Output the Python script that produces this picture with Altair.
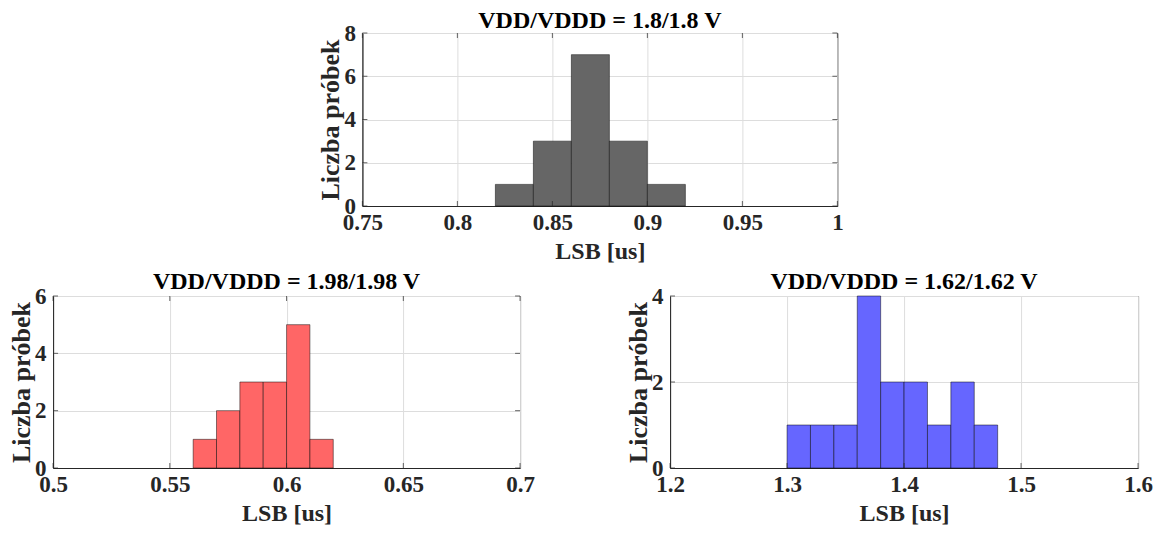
import altair as alt
import pandas as pd

FONT = "Liberation Serif"
TXT = "#262626"

# Top: VDD/VDDD = 1.8/1.8 V
top_lo = [0.82, 0.84, 0.86, 0.88, 0.90]
top_hi = [0.84, 0.86, 0.88, 0.90, 0.92]
top_counts = [1, 3, 7, 3, 1]

# Bottom left: VDD/VDDD = 1.98/1.98 V
bl_lo = [0.56, 0.57, 0.58, 0.59, 0.60, 0.61]
bl_hi = [0.57, 0.58, 0.59, 0.60, 0.61, 0.62]
bl_counts = [1, 2, 3, 3, 5, 1]

# Bottom right: VDD/VDDD = 1.62/1.62 V
br_lo = [1.30, 1.32, 1.34, 1.36, 1.38, 1.40, 1.42, 1.44, 1.46]
br_hi = [1.32, 1.34, 1.36, 1.38, 1.40, 1.42, 1.44, 1.46, 1.48]
br_counts = [1, 1, 1, 4, 2, 2, 1, 2, 1]

top_xticks = [0.75, 0.8, 0.85, 0.9, 0.95, 1.0]
bl_xticks = [0.5, 0.55, 0.6, 0.65, 0.7]
br_xticks = [1.2, 1.3, 1.4, 1.5, 1.6]
top_yticks = [0, 2, 4, 6, 8]
bl_yticks = [0, 2, 4, 6]
br_yticks = [0, 2, 4]

XT = "LSB [us]"
YT = "Liczba próbek"
TL = 5  # inward tick length


def hist(lo, hi, counts, color, xdom, xticks, ydom, yticks, title, w, h, box, toff):
    df = pd.DataFrame({"lo": lo, "hi": hi, "count": counts})
    xs = alt.Scale(domain=xdom, nice=False, zero=False)
    ys = alt.Scale(domain=ydom, nice=False)
    xax = alt.Axis(values=xticks, format=".2~f", title=XT)
    yax = alt.Axis(values=yticks, format="d", title=YT)
    bars = alt.Chart(df).mark_rect(
        color=color, stroke="black", strokeWidth=0.6, strokeOpacity=0.8
    ).encode(
        x=alt.X("lo:Q", scale=xs, axis=xax, title=XT),
        x2="hi:Q",
        y=alt.Y("count:Q", scale=ys, axis=yax, title=YT),
        y2=alt.datum(0),
    )
    xdf = pd.DataFrame({"v": xticks})
    ydf = pd.DataFrame({"v": yticks})
    layers = [bars]
    edges_x = [(ydom[0], -TL / 2)]
    edges_y = [(xdom[0], TL / 2)]
    if box:
        edges_x.append((ydom[1], TL / 2))
        edges_y.append((xdom[1], -TL / 2))
    for yv, off in edges_x:
        layers.append(alt.Chart(xdf).mark_tick(
            orient="vertical", size=TL, thickness=1, color=TXT, yOffset=off
        ).encode(x=alt.X("v:Q", scale=xs, axis=xax, title=XT),
                 y=alt.datum(yv, scale=ys, axis=yax, title=YT)))
    for xv, off in edges_y:
        layers.append(alt.Chart(ydf).mark_tick(
            orient="horizontal", size=TL, thickness=1, color=TXT, xOffset=off
        ).encode(y=alt.Y("v:Q", scale=ys, axis=yax, title=YT),
                 x=alt.datum(xv, scale=xs, axis=xax, title=XT)))
    return alt.layer(*layers).properties(
        width=w, height=h,
        title=alt.TitleParams(title, font=FONT, fontSize=24, fontWeight="bold",
                              color="black", offset=toff),
    )


top = hist(top_lo, top_hi, top_counts, "#666666", [0.75, 1.0], top_xticks,
           [0, 8], top_yticks, "VDD/VDDD = 1.8/1.8 V", 475, 173, True, -11)
bl = hist(bl_lo, bl_hi, bl_counts, "#ff6666", [0.5, 0.7], bl_xticks,
          [0, 6], bl_yticks, "VDD/VDDD = 1.98/1.98 V", 467, 172, True, -9)
br = hist(br_lo, br_hi, br_counts, "#6666ff", [1.2, 1.6], br_xticks,
          [0, 4], br_yticks, "VDD/VDDD = 1.62/1.62 V", 468, 172, False, -9)

bottom = alt.hconcat(bl, br, spacing=89)
chart = alt.vconcat(top, bottom, spacing=5, center=True).properties(
    padding={"left": 0, "top": 0, "right": 0, "bottom": 0}
).configure_view(
    stroke=TXT, strokeWidth=1
).configure_axis(
    labelFont=FONT, labelFontSize=23, labelFontWeight="bold", labelColor=TXT,
    titleFont=FONT, titleFontSize=24, titleFontWeight="bold", titleColor=TXT,
    domainColor=TXT, domainWidth=1, ticks=False, labelPadding=5,
    gridColor="#dddddd", gridWidth=1, labelFlush=False, labelOverlap=False,
).configure_axisY(
    titlePadding=0, labelPadding=7, titleFontSize=26,
).configure_axisX(
    titlePadding=5,
)

chart.save("out.html", embed_options={"renderer": "svg", "actions": False})
